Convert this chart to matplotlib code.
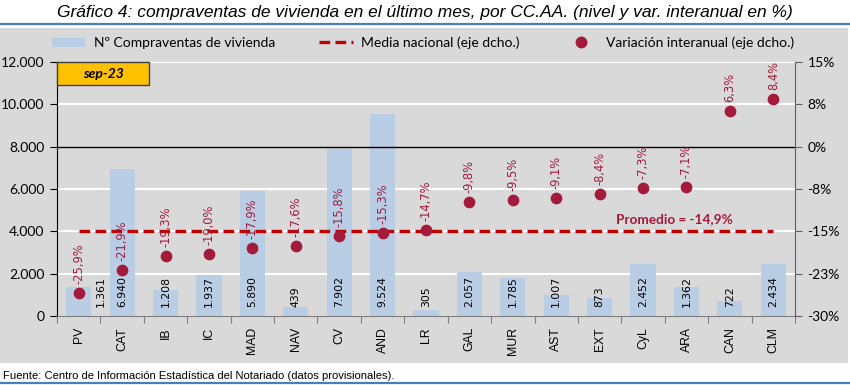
import numpy as np
import matplotlib
matplotlib.use('Agg')
from matplotlib import pyplot as plt
from matplotlib.patches import Rectangle, Patch
from matplotlib.lines import Line2D

# datos
ccaa = ['PV', 'CAT', 'IB', 'IC', 'MAD', 'NAV', 'CV', 'AND', 'LR', 'GAL',
        'MUR', 'AST', 'EXT', 'CyL', 'ARA', 'CAN', 'CLM']
compraventas = [1361, 6940, 1208, 1937, 5890, 439, 7902, 9524, 305, 2057,
                1785, 1007, 873, 2452, 1362, 722, 2434]
var_interanual = [-25.9, -21.9, -19.3, -19.0, -17.9, -17.6, -15.8, -15.3, -14.7,
                  -9.8, -9.5, -9.1, -8.4, -7.3, -7.1, 6.3, 8.4]
media_nacional = -14.9
right_ticks = [-30, -22.5, -15, -7.5, 0, 7.5, 15]
right_labels = ['-30%', '-23%', '-15%', '-8%', '0%', '8%', '15%']

bar_col = '#B9CDE5'
dot_col = '#A31A3A'
line_col = '#C00000'
bg_col = '#D9D9D9'
blue_line = '#4A7EBB'

plt.rcParams['font.family'] = ['Lato', 'DejaVu Sans']
narrow = ['Liberation Sans Narrow', 'Liberation Sans', 'DejaVu Sans']

fig = plt.figure(figsize=(8.5, 3.85), dpi=100)
fig.patch.set_facecolor('white')

# panel gris y lineas azules
fig.add_artist(Rectangle((0, 1 - 363/385), 848/850, (363 - 28)/385,
                         transform=fig.transFigure, facecolor=bg_col,
                         edgecolor='none', zorder=-10))
fig.add_artist(Line2D([0, 1], [1 - 23.5/385]*2, transform=fig.transFigure,
                      color=blue_line, lw=1.6))
fig.add_artist(Line2D([0, 1], [1 - 383/385]*2, transform=fig.transFigure,
                      color=blue_line, lw=1.6))

fig.text(0.5, 1 - 12.5/385,
         'Gráfico 4: compraventas de vivienda en el último mes, por CC.AA. (nivel y var. interanual en %)',
         ha='center', va='center', fontsize=12.5, style='italic', family=narrow)
fig.text(3/850, 1 - 376/385,
         'Fuente: Centro de Información Estadística del Notariado (datos provisionales).',
         ha='left', va='center', fontsize=8.1, family=narrow)

ax = fig.add_axes([57/850, 1 - 316/385, 738/850, 254/385])
ax.set_facecolor('none')
ax2 = ax.twinx()

x = np.arange(len(ccaa))
ax.bar(x, compraventas, width=0.58, color=bar_col, zorder=2)
ax.set_xlim(-0.5, len(ccaa) - 0.5)
ax.set_ylim(0, 12000)
ax.set_yticks(np.arange(0, 12001, 2000))
ax.set_yticklabels(['{:,}'.format(v).replace(',', '.') for v in range(0, 12001, 2000)])
for g in [2000, 4000, 6000, 10000, 12000]:
    ax.axhline(g, color='white', lw=1.5, zorder=1)

# etiquetas de barras
for i, v in enumerate(compraventas):
    xi = i + 0.5 if i == 0 else i
    ax.text(xi, 420, '{:,}'.format(v).replace(',', '.'), rotation=90,
            ha='center', va='bottom', fontsize=7.8, family='DejaVu Sans', zorder=5)

ax.set_xticks(np.arange(-0.5, len(ccaa)), minor=False)
ax.set_xticklabels([])
ax.set_xticks(x, minor=True)
ax.set_xticklabels(ccaa, minor=True, rotation=90, fontsize=8.8, family='Liberation Sans')
ax.tick_params(axis='x', which='major', length=5, color='#808080')
ax.tick_params(axis='x', which='minor', length=0, pad=8)
ax.tick_params(axis='y', length=5, pad=4, labelsize=10)
for s in ['top', 'right']:
    ax.spines[s].set_visible(False)
ax.spines['left'].set_color('black')
ax.spines['bottom'].set_color('#808080')

# eje derecho
ax2.set_ylim(-30, 15)
ax2.set_yticks(right_ticks)
ax2.set_yticklabels(right_labels)
ax2.tick_params(axis='y', length=5, pad=4, labelsize=10, color='#606060')
for s in ['top', 'left', 'bottom']:
    ax2.spines[s].set_visible(False)
ax2.spines['right'].set_color('#606060')
ax2.axhline(0, color='black', lw=1, zorder=3)
ax2.plot([x[0], x[-1]], [media_nacional]*2, color=line_col, lw=2.4,
         linestyle=(0, (3.2, 1.6)), zorder=4)
ax2.scatter(x, var_interanual, s=55, color=dot_col, zorder=6)
for i, v in enumerate(var_interanual):
    ax2.annotate('{:.1f}%'.format(v).replace('.', ','), (x[i], v),
                 xytext=(0, 6.5), textcoords='offset points', rotation=90,
                 ha='center', va='bottom', fontsize=8.3, color=dot_col,
                 family='DejaVu Sans', zorder=7)
ax2.annotate('Promedio = -14,9%', (15.07, media_nacional), xytext=(0, 4),
             textcoords='offset points', ha='right', va='bottom',
             fontsize=9.8, fontweight='bold', color=dot_col, zorder=7)

# recuadro sep-23
ax.add_patch(Rectangle((0, 0.909), 0.125, 0.091, transform=ax.transAxes,
                       facecolor='#FFC000', edgecolor='#404040', lw=1,
                       zorder=8, clip_on=False))
ax.text(0.0625, 0.954, 'sep-23', transform=ax.transAxes, ha='center',
        va='center', fontsize=10, fontweight='bold', style='italic', zorder=9)

# leyenda
handles = [Patch(facecolor=bar_col, edgecolor='none'),
           Line2D([], [], color=line_col, lw=2.4, linestyle=(0, (3.2, 1.6))),
           Line2D([], [], color=dot_col, marker='o', markersize=7.5, linestyle='none')]
labels = ['Nº Compraventas de vivienda', 'Media nacional (eje dcho.)',
          'Variación interanual (eje dcho.)']
fig.legend(handles, labels, ncol=3, loc='center', bbox_to_anchor=(423/850, 1 - 43/385),
           frameon=False, fontsize=10, columnspacing=3.2, handlelength=2.4,
           handletextpad=0.6)

plt.savefig('out.png', dpi=100)
